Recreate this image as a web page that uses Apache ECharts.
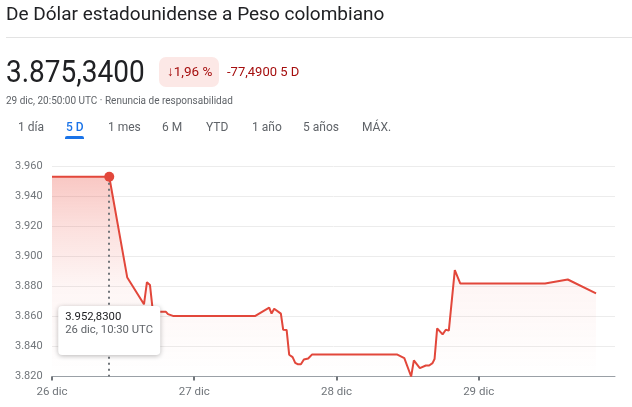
<!DOCTYPE html>
<html>
<head>
<meta charset="utf-8">
<script src="https://cdn.jsdelivr.net/npm/echarts@6/dist/echarts.min.js"></script>
<style>
  html, body { margin: 0; padding: 0; background: #fff; }
  #chart { width: 632px; height: 407px; }
</style>
</head>
<body>
<div id="chart"></div>
<script>
// ---- data ----
const titleText = 'De Dólar estadounidense a Peso colombiano';
const subText = '29 dic, 20:50:00 UTC · Renuncia de responsabilidad';
const rangeTabs = ['1 día', '5 D', '1 mes', '6 M', 'YTD', '1 año', '5 años', 'MÁX.'];
const activeTab = 1;
const dayLabels = ['26 dic', '27 dic', '28 dic', '29 dic'];
const dayTicks = [0, 24, 48, 72];           // hours since 26 dic
const yTicks = [3820, 3840, 3860, 3880, 3900, 3920, 3940, 3960];
const hours = [0, 9.66, 12.7, 15.52, 16.02, 16.53, 17.03, 18.33, 19.23, 19.57,
  20.41, 34.24, 36.65, 37.05, 37.49, 38.62, 39.01, 39.59, 40.02, 40.6,
  41.04, 41.44, 42.0, 42.5, 43.23, 43.9, 58.19, 59.45, 60.6, 61.06,
  62.07, 63.08, 63.64, 64.21, 64.55, 64.99, 65.91, 66.45, 66.96, 67.97,
  68.9, 83.2, 87.03, 91.8];
const rates = [3952.83, 3952.83, 3885.8, 3868.0, 3882.7, 3880.9, 3863.0, 3863.0, 3863.0, 3861.5,
  3860.3, 3860.2, 3865.8, 3861.8, 3865.1, 3861.8, 3851.1, 3851.0, 3834.5, 3832.9,
  3829.1, 3828.2, 3828.2, 3831.3, 3832.0, 3834.7, 3834.7, 3832.2, 3820.0, 3830.7,
  3825.6, 3827.3, 3827.3, 3828.9, 3831.6, 3852.0, 3848.0, 3851.1, 3850.5, 3890.7,
  3881.8, 3881.8, 3884.5, 3875.34];
const hoverIndex = 1;
const hoverLabel = '26 dic, 10:30 UTC';
const periodLabel = '5 D';

// ---- helpers ----
function fmt(v, dec) {
  const s = Math.abs(v).toFixed(dec);
  const parts = s.split('.');
  const ip = parts[0].replace(/\B(?=(\d{3})+(?!\d))/g, '.');
  return (v < 0 ? '-' : '') + ip + (parts[1] ? ',' + parts[1] : '');
}

const FONT = 'Roboto, "Noto Sans", sans-serif';
const RED = '#e2473b';
const last = rates[rates.length - 1];
const first = rates[0];
const change = last - first;
const pct = change / first * 100;

const chart = echarts.init(document.getElementById('chart'), null, { renderer: 'canvas' });

chart.setOption({
  animation: false,
  grid: { left: 52, right: 17, top: 166, bottom: 30.5, containLabel: false },
  xAxis: {
    type: 'value',
    min: 0, max: 95, interval: 24,
    axisLine: { show: true, lineStyle: { color: '#9aa0a6', width: 1 } },
    axisTick: { show: true, length: 4, inside: false, customValues: dayTicks,
      lineStyle: { color: '#70757a', width: 2 } },
    axisLabel: {
      customValues: dayTicks,
      color: '#70757a', fontSize: 11.5, fontFamily: FONT, margin: 10,
      formatter: function (v) {
        const i = dayTicks.indexOf(Math.round(v));
        return i >= 0 ? dayLabels[i] : '';
      }
    },
    splitLine: { show: false }
  },
  yAxis: {
    type: 'value',
    min: yTicks[0], max: yTicks[yTicks.length - 1], interval: 20,
    axisLine: { show: false },
    axisTick: { show: false },
    axisLabel: {
      align: 'left', margin: 37, color: '#70757a', fontSize: 11, fontFamily: FONT,
      formatter: function (v) { return fmt(v, 0); }
    },
    splitLine: { show: true, lineStyle: { color: '#ececec', width: 1 } }
  },
  series: [{
    type: 'line',
    data: hours.map(function (h, i) { return [h, rates[i]]; }),
    showSymbol: false,
    symbol: 'none',
    lineStyle: { color: RED, width: 2 },
    itemStyle: { color: RED },
    areaStyle: {
      color: {
        type: 'linear', x: 0, y: 0, x2: 0, y2: 1,
        colorStops: [
          { offset: 0, color: 'rgba(234,67,53,0.42)' },
          { offset: 0.25, color: 'rgba(234,67,53,0.24)' },
          { offset: 0.55, color: 'rgba(234,67,53,0.07)' },
          { offset: 1, color: 'rgba(234,67,53,0)' }
        ]
      }
    },
    markLine: {
      silent: true,
      symbol: ['none', 'none'],
      label: { show: false },
      lineStyle: { color: '#70757a', width: 2, type: [2, 4] },
      data: [[
        { coord: [hours[hoverIndex], rates[hoverIndex]] },
        { coord: [hours[hoverIndex], yTicks[0]] }
      ]]
    },
    markPoint: {
      silent: true,
      symbol: 'circle',
      symbolSize: 10,
      label: { show: false },
      itemStyle: { color: RED },
      data: [{ coord: [hours[hoverIndex], rates[hoverIndex]] }]
    },
    z: 3
  }]
});

// ---- header + tooltip box as graphics ----
const p = chart.convertToPixel({ gridIndex: 0 }, [hours[hoverIndex], rates[hoverIndex]]);
const boxW = 102, boxH = 49;
const boxX = p[0] - boxW / 2;
const boxY = 306;

function txt(x, y, text, size, fill, extra) {
  const st = { text: text, fontSize: size, fontFamily: FONT, fill: fill, align: 'left', verticalAlign: 'middle' };
  if (extra && extra.weight) st.fontWeight = extra.weight;
  const el = { type: 'text', x: x, y: y, z: 200, style: st };
  if (extra && extra.scaleX) el.scaleX = extra.scaleX;
  return el;
}

const tabX = [18, 66, 108, 162, 206, 252, 303, 362];
const tabGraphics = rangeTabs.map(function (t, i) {
  return txt(tabX[i], 127.7, t, 12, i === activeTab ? '#1a73e8' : '#5f6368',
    { weight: i === activeTab ? 500 : 400 });
});

chart.setOption({
  graphic: [
    txt(6, 15.3, titleText, 19, '#202124'),
    { type: 'rect', shape: { x: 6, y: 37, width: 626, height: 1 }, style: { fill: '#e3e3e3' } },
    txt(6, 73.7, fmt(last, 4), 32, '#202124', { scaleX: 0.875 }),
    { type: 'rect', shape: { x: 159, y: 57, width: 60, height: 30, r: 7 }, style: { fill: '#fce8e6' } },
    txt(167, 72.4, (change < 0 ? '↓' : '↑') + Math.abs(pct).toFixed(2).replace('.', ',') + ' %', 13.5, '#a50e0e'),
    txt(227, 72.4, fmt(change, 4) + ' ' + periodLabel, 13, '#a50e0e'),
    txt(6, 101.5, subText, 10, '#5f6368'),
    ...tabGraphics,
    { type: 'rect', shape: { x: 65, y: 136, width: 19, height: 3, r: [2, 2, 0, 0] }, style: { fill: '#1a73e8' } },
    { type: 'rect', z: 200, shape: { x: boxX, y: boxY, width: boxW, height: boxH, r: 4 },
      style: { fill: '#ffffff', shadowBlur: 5, shadowColor: 'rgba(0,0,0,0.28)', shadowOffsetY: 1 } },
    txt(boxX + 7, 316.8, fmt(rates[hoverIndex], 4), 11.3, '#202124'),
    txt(boxX + 7, 330.2, hoverLabel, 11.3, '#5f6368')
  ]
});
</script>
</body>
</html>
